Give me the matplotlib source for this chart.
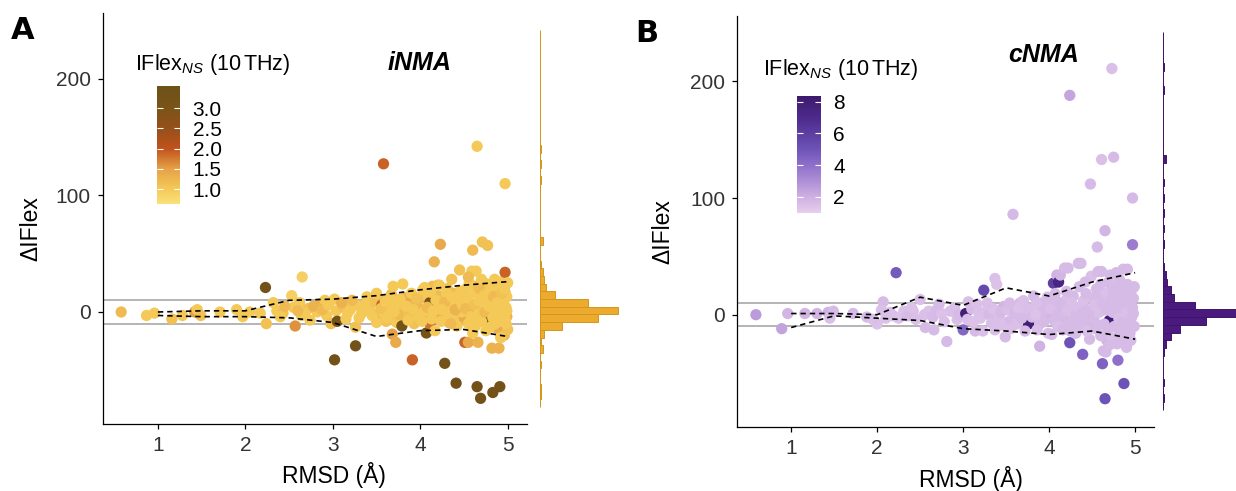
import numpy as np
import matplotlib
matplotlib.use("Agg")
import matplotlib.pyplot as plt
from matplotlib.colors import LinearSegmentedColormap, Normalize
from matplotlib.cm import ScalarMappable

plt.rcParams['font.family'] = ['Liberation Sans', 'DejaVu Sans']
plt.rcParams['mathtext.fontset'] = 'custom'
plt.rcParams['mathtext.rm'] = 'Liberation Sans'
plt.rcParams['mathtext.it'] = 'Liberation Sans:italic'
plt.rcParams['mathtext.bf'] = 'Liberation Sans:bold'

# ---- panel A (iNMA) ----
a_rmsd = [0.58, 0.87, 0.96, 1.16, 1.28, 1.42, 1.45, 1.49, 1.71, 1.90, 1.97, 2.05, 2.17, 2.24, 2.23, 2.65,
          2.32, 2.36, 2.43, 2.53, 2.55, 2.57, 2.62, 2.64, 2.72, 2.74, 2.82, 2.85, 2.91, 2.93, 2.98, 2.45, 2.68, 2.78, 2.88, 2.95, 2.40, 2.60,
          3.52, 3.57, 3.61, 3.64, 3.67, 3.74, 3.78, 3.82, 3.85, 3.89, 3.93, 3.97, 4.01, 4.04, 4.10, 4.14, 4.19, 4.21, 4.27, 4.31,
          4.33, 4.37, 4.39, 4.44, 4.49, 4.50, 4.56, 4.61, 4.63, 4.69, 4.71, 4.74, 4.77, 4.81, 4.84, 4.88, 4.91, 4.95, 4.97, 4.99,
          3.02, 3.04, 3.05, 3.02, 3.12, 3.17, 3.26, 3.27, 3.26, 3.33, 3.39, 3.42, 3.10, 3.15, 3.20, 3.22, 3.30, 3.36, 3.45, 3.48,
          3.50, 3.50, 3.56, 3.58, 3.58, 3.63, 3.68, 3.69, 3.71, 3.72, 3.73, 3.77, 3.79, 3.80, 3.80, 3.88, 3.90, 3.91, 3.94, 3.98,
          3.55, 3.62, 3.66, 3.75, 3.84, 3.86, 3.92, 3.96, 3.60, 3.70,
          4.03, 4.05, 4.05, 4.07, 4.09, 4.11, 4.11, 4.13, 4.16, 4.17, 4.20, 4.22, 4.22, 4.23, 4.26, 4.28, 4.30, 4.34, 4.36, 4.38,
          4.41, 4.43, 4.45, 4.47, 4.02, 4.08, 4.15, 4.18, 4.24, 4.28, 4.32, 4.36, 4.40, 4.42, 4.46, 4.48, 4.12, 4.25, 4.35,
          4.51, 4.53, 4.55, 4.55, 4.56, 4.57, 4.59, 4.60, 4.64, 4.64, 4.65, 4.65, 4.66, 4.66, 4.69, 4.71, 4.72, 4.76, 4.76, 4.77,
          4.80, 4.81, 4.82, 4.83, 4.87, 4.89, 4.90, 4.90, 4.91, 4.93, 4.95, 4.96, 4.97, 4.97, 4.97, 4.99, 4.99, 5.00, 5.00, 4.52,
          4.54, 4.58, 4.62, 4.63, 4.67, 4.68, 4.70, 4.73, 4.74, 4.75, 4.78, 4.79, 4.83, 4.84, 4.85, 4.86, 4.88, 4.92, 4.93, 4.94,
          4.96, 4.98, 4.98, 4.60, 4.70, 4.85, 4.92, 4.55]
a_dflex = [0, -3, -1, -6, -3, 0, 2, -3, 0, 2, -4, 0, -1, -10, 21, 30,
           8, 1, -1, 14, 4, -12, 8, -3, 3, -7, 0, 7, 10, -3, -10, 5, -1, 5, 2, 6, -4, 1,
           -2, 10, -8, 4, 15, -6, 2, 12, -3, 8, -10, 4, 12, -3, 3, 22, -4, 14, 5, 20,
           -9, -2, 16, 8, -6, 14, 0, -8, 22, 6, 15, -3, -9, 4, 20, -14, 11, -12, 17, -4,
           11, 1, -8, -41, 4, -1, -29, 6, -13, -1, 13, 3, 8, -6, 2, 10, -5, 6, -3, 9,
           16, -9, 6, -1, 127, 1, -19, 22, 7, -26, -9, 11, -12, 24, 1, -1, 16, -41, 7, -4,
           3, -5, 12, -2, 5, -7, 2, 12, 9, 0,
           19, 1, 21, -18, 13, 8, -10, -6, 43, -16, 23, 6, 23, 58, -1, -44, 16, 4, 28, -7,
           -61, 10, 36, 0, -8, 4, 1, 10, -8, 8, -4, 13, 2, -12, 18, 6, 17, 2, -10,
           -26, 20, -10, -26, 25, 7, 35, 53, 35, 16, 142, -64, -3, -26, -74, 60, 4, 24, -6, 57,
           -13, 10, -31, -69, 19, -1, -31, 25, -64, 26, 7, -20, 34, -6, 110, 13, 1, -15, 25, 3,
           12, -4, 6, -12, 10, 20, -8, 14, 0, -16, 5, 18, -5, 13, 1, -10, 8, -8, 16, -2,
           20, 4, -10, -18, 28, 28, -22, 30]
a_ifns = [1.2, 1.0, 1.0, 1.1, 1.0, 1.5, 1.0, 1.1, 1.0, 1.0, 1.0, 1.0, 1.0, 1.1, 3.3, 0.9,
          1.0, 1.0, 1.1, 0.9, 1.0, 1.6, 1.0, 1.0, 1.1, 1.0, 1.0, 1.3, 1.0, 1.0, 1.1, 1.2, 1.0, 1.3, 1.2, 1.0, 1.0, 1.2,
          1.3, 1.2, 1.1, 1.4, 1.2, 1.3, 1.1, 1.3, 1.2, 1.4, 1.1, 1.3, 1.2, 1.4, 1.5, 1.2, 1.3, 1.2, 1.4, 1.1,
          1.3, 1.4, 1.2, 1.3, 1.4, 1.2, 1.3, 1.4, 1.1, 1.3, 1.2, 1.4, 1.3, 1.5, 1.2, 1.3, 1.2, 1.4, 1.1, 1.3,
          1.0, 1.0, 3.2, 3.3, 1.1, 1.0, 3.3, 1.0, 1.1, 1.0, 1.0, 1.0, 1.3, 1.0, 1.0, 1.2, 1.0, 1.0, 1.0, 1.1,
          1.0, 1.0, 1.9, 1.0, 1.9, 1.0, 1.5, 1.0, 1.0, 1.4, 1.0, 1.0, 3.3, 1.0, 1.0, 1.1, 1.0, 1.9, 1.2, 1.0,
          1.1, 1.0, 1.0, 1.2, 1.0, 1.0, 1.0, 1.1, 1.0, 1.0,
          1.0, 1.0, 1.0, 3.2, 1.0, 3.2, 1.8, 1.0, 1.3, 1.0, 1.1, 1.0, 1.0, 1.4, 1.3, 3.3, 1.0, 1.0, 1.1, 1.0,
          3.3, 1.0, 1.1, 1.0, 1.0, 1.2, 1.0, 1.0, 1.0, 1.2, 1.0, 1.0, 1.3, 1.0, 1.0, 1.0, 1.0, 1.0, 1.2,
          1.9, 1.0, 1.0, 1.4, 1.0, 1.0, 1.0, 1.2, 1.0, 1.0, 1.0, 3.3, 1.0, 1.3, 3.3, 1.1, 1.0, 1.0, 3.2, 1.1,
          1.0, 1.1, 1.3, 3.3, 1.0, 1.1, 1.3, 1.0, 3.3, 1.0, 1.0, 1.2, 1.9, 1.0, 1.0, 1.0, 1.0, 1.1, 1.0, 1.2,
          1.0, 1.0, 1.1, 1.0, 1.0, 1.2, 1.0, 1.0, 1.2, 1.0, 1.0, 1.0, 1.0, 1.2, 1.0, 1.0, 1.0, 1.0, 1.1, 1.0,
          1.0, 1.0, 1.0, 1.0, 1.0, 1.0, 1.0, 1.2]

# quantile envelopes (dashed)
env_x = [1, 1.5, 2, 2.5, 3, 3.5, 4, 4.5, 5]
a_upper = [0, 1, 1, 10, 11, 14, 19, 23, 26]
a_lower = [-3, -4, -4, -5, -9, -21, -16, -15, -21]

# marginal histogram counts (bins of 6.6 starting at -81.3)
hist_edges = -81.3 + 6.6 * np.arange(50)
a_counts = [0, 1, 1, 0, 0, 1, 0, 2, 1, 3, 15, 40, 54, 33, 10, 4, 3, 2, 1, 0,
            0, 2, 0, 0, 0, 0, 0, 0, 0, 1, 0, 1, 0, 1, 0, 0, 0, 0, 0, 0,
            0, 0, 0, 0, 0, 0, 0, 0, 0]

# ---- panel B (cNMA) ----
b_rmsd = [0.59, 0.89, 0.96, 1.16, 1.30, 1.43, 1.49, 1.45, 1.72, 1.88, 2.00, 1.95, 2.07, 2.05, 2.19, 2.22, 2.31, 2.42, 2.50, 2.56,
          2.66, 2.60, 2.69, 2.81, 2.85, 2.93, 2.10, 2.15, 2.25, 2.35, 2.45, 2.55, 2.65, 2.75, 2.78, 2.90, 2.95, 2.72, 2.40,
          3.53, 3.59, 3.63, 3.69, 3.75, 3.81, 3.87, 3.91, 3.96, 4.01, 4.04, 4.14, 4.19, 4.25, 4.29, 4.32, 4.39, 4.45, 4.50, 4.51,
          4.57, 4.63, 4.67, 4.71, 4.74, 4.79, 4.82, 4.87, 4.92, 4.95,
          3.03, 3.00, 3.06, 3.14, 3.23, 3.24, 3.27, 3.37, 3.39, 3.37, 3.47, 3.49, 3.05, 3.10, 3.12, 3.18, 3.20, 3.30, 3.33, 3.35,
          3.42, 3.44, 3.45, 3.16, 3.28,
          3.58, 3.58, 3.66, 3.74, 3.76, 3.82, 3.89, 3.89, 3.97, 3.52, 3.55, 3.60, 3.62, 3.64, 3.68, 3.70, 3.72, 3.78, 3.80, 3.85,
          3.86, 3.92, 3.94, 3.98, 3.99, 3.54, 3.84,
          4.03, 4.05, 4.09, 4.11, 4.13, 4.18, 4.22, 4.24, 4.24, 4.28, 4.17, 4.34, 4.36, 4.37, 4.39, 4.47, 4.48, 4.49, 4.02, 4.06,
          4.08, 4.10, 4.12, 4.15, 4.16, 4.20, 4.21, 4.23, 4.26, 4.30, 4.31, 4.33, 4.35, 4.38, 4.40, 4.41, 4.43, 4.44, 4.46, 4.42,
          4.07, 4.27,
          4.56, 4.57, 4.59, 4.61, 4.61, 4.62, 4.63, 4.65, 4.65, 4.66, 4.70, 4.71, 4.73, 4.75, 4.78, 4.78, 4.80, 4.86, 4.87, 4.90,
          4.91, 4.94, 4.94, 4.96, 4.97, 4.97, 4.98, 4.52, 4.53, 4.54, 4.55, 4.58, 4.60, 4.62, 4.64, 4.66, 4.67, 4.68, 4.69, 4.72,
          4.73, 4.74, 4.76, 4.77, 4.79, 4.80, 4.81, 4.82, 4.83, 4.84, 4.85, 4.86, 4.88, 4.89, 4.90, 4.91, 4.92, 4.93, 4.95, 4.96,
          4.97, 4.98, 4.99, 4.99, 4.60, 4.70, 4.75, 4.85]
b_dflex = [0, -12, 1, 1, 1, 2, 3, -3, 1, -2, -8, -4, 11, 4, -1, 36, 3, 3, 13, -11,
           -13, 3, 4, -23, 3, -4, -3, 2, -3, -1, -4, 0, -2, 1, -6, 6, 0, 9, 6,
           -6, 6, -2, 8, -5, 4, -9, 10, -3, 0, 8, -4, 12, -14, 4, -10, 8, -6, 14, 0,
           -9, 4, -22, 20, 6, 2, -16, 4, 18, -10,
           1, -13, 11, -14, -14, 21, 3, 31, 26, -13, 7, -19, -4, 5, -6, 2, -3, 0, -7, 5,
           -2, 2, -9, 9, 10,
           86, -4, 10, 1, -8, 16, -27, -8, 7, 4, -12, 2, -8, 6, -3, 12, -14, 5, -2, 9,
           -13, 2, -6, 15, -16, 10, 0,
           -17, 27, 34, 28, 34, 40, 40, 188, -24, 16, -1, 44, -10, 44, -34, -21, 112, 33, 5, -5,
           12, -10, 2, 8, -13, 20, 4, -6, 10, -2, -16, 6, 24, 1, 12, -6, 18, -14, 4, 28,
           18, -10,
           58, 37, 16, 133, 37, -42, -31, 72, -72, -32, -5, 34, 211, 135, 24, 36, -39, 39, -59, -28,
           39, -16, 9, 21, 100, 60, 1, -4, 8, -12, 22, 2, -18, 10, -8, 18, 4, -14, 28, 12,
           -20, 2, -10, 8, -25, 16, -3, 30, 6, -12, 20, -6, 12, -18, 2, 26, -8, 15, -22, -2,
           6, 14, -10, 24, 26, -26, 20, -22]
b_ifns = [2.6, 2.4, 1.8, 1.8, 1.8, 1.9, 1.6, 1.5, 1.7, 1.6, 1.4, 1.5, 1.6, 1.5, 1.6, 4.8, 1.4, 1.5, 1.5, 1.6,
          1.6, 1.4, 1.6, 1.7, 1.5, 1.5, 1.4, 1.5, 1.4, 1.6, 1.5, 1.5, 1.6, 1.4, 1.5, 1.5, 1.6, 1.6, 1.4,
          1.7, 1.5, 1.8, 1.6, 1.7, 1.5, 1.8, 1.6, 1.7, 1.8, 1.6, 1.7, 1.5, 1.8, 1.7, 1.6, 1.8, 1.7, 1.6, 1.8,
          1.7, 1.6, 1.8, 1.7, 1.6, 1.8, 1.7, 1.6, 1.8, 1.7,
          8.0, 4.3, 1.5, 1.6, 1.5, 5.5, 1.4, 1.5, 1.4, 1.5, 1.8, 1.6, 1.5, 1.6, 1.4, 1.5, 1.4, 1.6, 1.5, 1.4,
          1.5, 1.6, 1.5, 1.5, 1.5,
          1.7, 1.6, 1.6, 1.5, 8.0, 1.6, 1.9, 1.6, 1.6, 1.5, 1.5, 1.6, 1.5, 1.4, 1.6, 1.5, 1.6, 1.5, 1.6, 1.5,
          1.5, 1.6, 1.6, 1.6, 1.5, 1.6, 1.4,
          1.6, 6.0, 1.9, 7.5, 1.8, 1.6, 1.6, 2.3, 5.0, 1.6, 1.6, 1.7, 1.6, 1.6, 4.5, 1.6, 1.6, 1.5, 1.5, 1.6,
          1.6, 1.5, 1.6, 1.7, 1.6, 1.6, 1.5, 1.6, 1.5, 1.6, 1.6, 1.5, 1.6, 1.6, 1.5, 1.6, 1.6, 1.5, 1.6, 1.6,
          1.6, 1.6,
          1.6, 1.6, 1.6, 1.5, 1.6, 4.5, 1.6, 1.8, 5.0, 1.7, 8.0, 1.6, 1.5, 1.6, 1.6, 1.7, 4.0, 1.6, 5.0, 1.6,
          1.6, 1.6, 1.6, 1.6, 1.7, 3.6, 1.6, 1.6, 1.5, 1.6, 1.6, 1.5, 1.6, 1.6, 1.6, 1.5, 1.6, 1.6, 1.6, 1.6,
          1.5, 1.6, 1.6, 1.6, 1.6, 1.6, 1.5, 1.6, 1.6, 1.6, 1.6, 1.6, 1.6, 1.6, 1.5, 1.6, 1.6, 1.6, 1.6, 1.6,
          1.6, 1.6, 1.6, 1.6, 1.6, 1.6, 1.6, 1.6]

b_upper = [1, 1, 0, 15, 8, 23, 16, 28, 36]
b_lower = [-11, -1, -3, -5, -12, -14, -17, -14, -21]

b_counts = [0, 1, 0, 1, 0, 0, 0, 1, 2, 6, 12, 30, 62, 22, 8, 6, 3, 2, 1, 0,
            0, 1, 0, 1, 0, 1, 0, 1, 0, 1, 0, 0, 2, 0, 0, 0, 0, 0, 0, 0,
            0, 1, 0, 0, 1, 0, 0, 0, 0]

a_ticks = [1.0, 1.5, 2.0, 2.5, 3.0]
b_ticks = [2, 4, 6, 8]

cmap_a = LinearSegmentedColormap.from_list(
    "inma", [(0.0, "#FBE07A"), (0.13, "#F4C857"), (0.30, "#E5A146"),
             (0.47, "#C0521C"), (0.65, "#94501A"), (0.82, "#7A5318"), (1.0, "#6C5218")])
cmap_b = LinearSegmentedColormap.from_list(
    "cnma", [(0.0, "#E6CFEE"), (0.14, "#CEAFE2"), (0.41, "#8E6FCA"),
             (0.55, "#6D52B6"), (0.80, "#4E2C8E"), (1.0, "#3D1A6C")])

W, H = 1236, 491
fig = plt.figure(figsize=(W / 100, H / 100), dpi=100)


def fx(px):
    return px / W


def fy(py):
    return 1 - py / H


def draw_panel(left, top, right, bottom, x, y, c, cmap, vmin, vmax, upper, lower,
               counts, hist_left, hist_w, hist_top, hist_bottom, hist_fill, hist_edge):
    ax = fig.add_axes([fx(left), fy(bottom), fx(right - left), (bottom - top) / H])
    norm = Normalize(vmin=vmin, vmax=vmax)
    ax.axhline(10, color="#a8a8a8", lw=1.2, zorder=1)
    ax.axhline(-10, color="#a8a8a8", lw=1.2, zorder=1)
    ax.scatter(x, y, c=c, cmap=cmap, norm=norm, s=66, linewidths=0, zorder=2)
    ax.plot(env_x, upper, color="black", lw=1.2, ls=(0, (3.2, 2.4)), zorder=3)
    ax.plot(env_x, lower, color="black", lw=1.2, ls=(0, (3.2, 2.4)), zorder=3)
    ax.set_xlim(0.37, 5.215)
    ax.set_ylim(-96, 256)
    ax.set_xticks([1, 2, 3, 4, 5])
    ax.set_yticks([0, 100, 200])
    for s in ["top", "right"]:
        ax.spines[s].set_visible(False)
    for s in ["left", "bottom"]:
        ax.spines[s].set_linewidth(0.9)
    ax.tick_params(length=3.5, width=0.9, pad=5, labelsize=15, labelcolor="#333333")

    # marginal histogram
    hx = fig.add_axes([fx(hist_left), fy(bottom), fx(hist_w), (bottom - top) / H])
    centers = (hist_edges[:-1] + hist_edges[1:]) / 2
    hx.barh(centers, counts, height=6.6, color=hist_fill, edgecolor=hist_edge, linewidth=0.7)
    hx.plot([0, 0], [hist_bottom, hist_top], color=hist_edge, lw=1.3)
    hx.set_xlim(0, hist_w / 1.45)
    hx.set_ylim(-96, 256)
    hx.axis("off")
    return ax, norm


def draw_cbar(norm, cmap, left, top, right, bottom, ticks, fmt):
    cax = fig.add_axes([fx(left), fy(bottom), fx(right - left), (bottom - top) / H])
    cb = fig.colorbar(ScalarMappable(norm=norm, cmap=cmap), cax=cax)
    cb.outline.set_visible(False)
    cb.set_ticks(ticks)
    cb.set_ticklabels([fmt.format(t) for t in ticks])
    cax.yaxis.set_ticks_position("both")
    cax.tick_params(direction="in", length=4, width=0.8, color="white",
                    labelleft=False, labelright=True, labelsize=15, pad=9)


# panel A
axA, normA = draw_panel(102.8, 13.3, 526.5, 424, a_rmsd, a_dflex, a_ifns, cmap_a, 0.63, 3.55,
                        a_upper, a_lower, a_counts, 540, 80, 240, -81, "#ECAB2D", "#D4961F")
draw_cbar(normA, cmap_a, 157, 86, 180, 204, a_ticks, "{:.1f}")
fig.text(fx(135), fy(70), r"IFlex$_{NS}$ (10$\,$THz)", fontsize=15.5, va="baseline")
axA.text(3.99, 213, "iNMA", fontsize=18, fontweight="bold", fontstyle="italic", ha="center", va="center")
axA.text(-0.169, 0.476, "\u0394IFlex", transform=axA.transAxes, rotation=90, fontsize=16.5,
         ha="center", va="center")
axA.text(0.546, -0.124, "RMSD (\u00c5)", transform=axA.transAxes, fontsize=16.5, ha="center", va="center")
fig.text(fx(11), fy(39), "A", fontsize=22, fontweight="heavy", family="DejaVu Sans", va="baseline")

# panel B
axB, normB = draw_panel(737, 16, 1153.6, 426.7, b_rmsd, b_dflex, b_ifns, cmap_b, 0.95, 8.38,
                        b_upper, b_lower, b_counts, 1162.7, 95, 240, -81, "#4B1A7E", "#3E1568")
draw_cbar(normB, cmap_b, 797, 95.7, 821, 213.3, b_ticks, "{:d}")
fig.text(fx(763), fy(75), r"IFlex$_{NS}$ (10$\,$THz)", fontsize=15.5, va="baseline")
axB.text(3.94, 223, "cNMA", fontsize=18, fontweight="bold", fontstyle="italic", ha="center", va="center")
axB.text(-0.179, 0.476, "\u0394IFlex", transform=axB.transAxes, rotation=90, fontsize=16.5,
         ha="center", va="center")
axB.text(0.561, -0.127, "RMSD (\u00c5)", transform=axB.transAxes, fontsize=16.5, ha="center", va="center")
fig.text(fx(635), fy(42), "B", fontsize=22, fontweight="heavy", family="DejaVu Sans", va="baseline")

fig.savefig("out.png", dpi=100)
